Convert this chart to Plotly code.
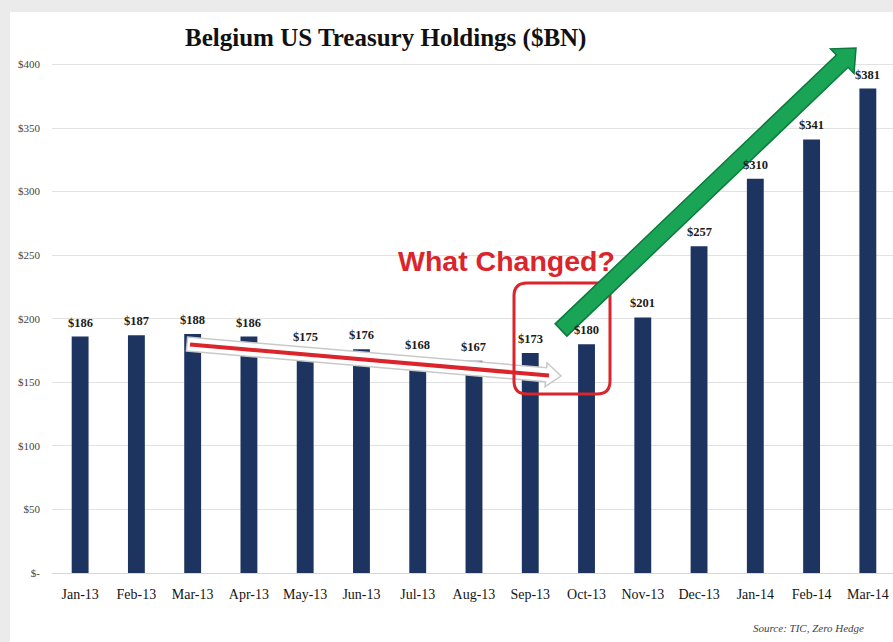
import plotly.graph_objects as go

# ---- data ----
months = ["Jan-13", "Feb-13", "Mar-13", "Apr-13", "May-13", "Jun-13", "Jul-13", "Aug-13",
          "Sep-13", "Oct-13", "Nov-13", "Dec-13", "Jan-14", "Feb-14", "Mar-14"]
holdings = [186, 187, 188, 186, 175, 176, 168, 167, 173, 180, 201, 257, 310, 341, 381]
y_tick_vals = [0, 50, 100, 150, 200, 250, 300, 350, 400]
y_tick_text = ["$-", "$50", "$100", "$150", "$200", "$250", "$300", "$350", "$400"]

# ---- layout geometry (pixels) ----
W, H = 893, 642
ML, MR, MT, MB = 52, 0, 39, 69
XR = [-0.5, 14.447]
YR = [0, 420]
PW = W - ML - MR
PH = H - MT - MB
DX = PW / (XR[1] - XR[0])
KY = PH / (YR[1] - YR[0])
Y0 = H - MB


def P(px, py):
    """pixel -> data coords"""
    return (px - ML) / DX + XR[0], (Y0 - py) / KY + YR[0]


def PP(px, py):
    """pixel -> paper coords"""
    return (px - ML) / PW, (Y0 - py) / PH


def path_from_px(points):
    pts = [P(x, y) for x, y in points]
    s = "M %f,%f " % pts[0]
    for p in pts[1:]:
        s += "L %f,%f " % p
    return s + "Z"


def arrow_poly(tail, tip, body_hw, head_hw, head_len):
    tx, ty = tail
    hx, hy = tip
    L = ((hx - tx) ** 2 + (hy - ty) ** 2) ** 0.5
    ux, uy = (hx - tx) / L, (hy - ty) / L
    nx, ny = -uy, ux
    bx, by = hx - head_len * ux, hy - head_len * uy
    return [
        (tx + body_hw * nx, ty + body_hw * ny),
        (bx + body_hw * nx, by + body_hw * ny),
        (bx + head_hw * nx, by + head_hw * ny),
        (hx, hy),
        (bx - head_hw * nx, by - head_hw * ny),
        (bx - body_hw * nx, by - body_hw * ny),
        (tx - body_hw * nx, ty - body_hw * ny),
    ]


def rounded_rect_px(x0, y0, x1, y1, r):
    a = P(x0, y0); b = P(x1, y1)
    rx = r / DX; ry = r / KY
    X0, Yt = a; X1, Yb = b
    return (f"M {X0+rx},{Yt} L {X1-rx},{Yt} Q {X1},{Yt} {X1},{Yt-ry} "
            f"L {X1},{Yb+ry} Q {X1},{Yb} {X1-rx},{Yb} "
            f"L {X0+rx},{Yb} Q {X0},{Yb} {X0},{Yb+ry} "
            f"L {X0},{Yt-ry} Q {X0},{Yt} {X0+rx},{Yt} Z")


NAVY = "#1d3461"
RED = "#d9252b"
SERIF = "Liberation Serif, Times New Roman, serif"
SANS = "Liberation Sans, Arial, sans-serif"

fig = go.Figure()
fig.add_trace(go.Bar(
    x=list(range(len(months))), y=holdings, width=0.3,
    marker=dict(color=NAVY, line=dict(width=0)),
    hoverinfo="skip",
))

annotations = []
for i, v in enumerate(holdings):
    annotations.append(dict(
        x=i, y=v, xref="x", yref="y", text=f"<b>${v}</b>", showarrow=False,
        yanchor="bottom", yshift=5, font=dict(family=SERIF, size=12.5, color="#1a1a1a")))

tx, ty = PP(385, 38)
annotations.append(dict(x=tx, y=ty, xref="paper", yref="paper", showarrow=False,
                        text="<b>Belgium US Treasury Holdings ($BN)</b>",
                        xanchor="center", yanchor="middle",
                        font=dict(family=SERIF, size=25, color="#111111")))
wx, wy = P(506, 261)
annotations.append(dict(x=wx, y=wy, xref="x", yref="y", showarrow=False,
                        text="<b>What Changed?</b>", xanchor="center", yanchor="middle",
                        font=dict(family=SANS, size=28.5, color=RED)))
sx, sy = PP(866, 628)
annotations.append(dict(x=sx, y=sy, xref="paper", yref="paper", showarrow=False,
                        text="<i>Source: TIC, Zero Hedge</i>", xanchor="right", yanchor="middle",
                        font=dict(family=SERIF, size=11, color="#444444")))

shapes = []
# frame bands
lx0, ly0 = PP(0, H); lx1, ly1 = PP(10, 0)
shapes.append(dict(type="rect", xref="paper", yref="paper", x0=lx0, x1=lx1, y0=ly0, y1=ly1,
                   fillcolor="#ebebeb", line=dict(width=0), layer="below"))
tx0, ty0 = PP(0, 12); tx1, ty1 = PP(W, 0)
shapes.append(dict(type="rect", xref="paper", yref="paper", x0=tx0, x1=tx1, y0=ty0, y1=ty1,
                   fillcolor="#ebebeb", line=dict(width=0), layer="below"))

# white arrow with red line (declining trend)
shapes.append(dict(type="path", xref="x", yref="y",
                   path=path_from_px(arrow_poly((187, 344), (561, 376), 7, 12, 15)),
                   fillcolor="white", line=dict(color="#c9c9c9", width=1.5), layer="above"))
a0 = P(190, 344.5); a1 = P(549, 375.5)
shapes.append(dict(type="line", xref="x", yref="y", x0=a0[0], y0=a0[1], x1=a1[0], y1=a1[1],
                   line=dict(color=RED, width=4), layer="above"))
# red rounded rectangle
shapes.append(dict(type="path", xref="x", yref="y",
                   path=rounded_rect_px(514, 283, 610, 394, 13),
                   fillcolor="rgba(0,0,0,0)", line=dict(color=RED, width=3), layer="above"))
# green arrow
shapes.append(dict(type="path", xref="x", yref="y",
                   path=path_from_px(arrow_poly((561, 330), (856, 48), 8.5, 17, 19)),
                   fillcolor="#19a555", line=dict(color="#0c7a3c", width=1.5), layer="above"))

fig.update_layout(
    width=W, height=H,
    margin=dict(l=ML, r=MR, t=MT, b=MB, pad=0),
    paper_bgcolor="white", plot_bgcolor="white",
    showlegend=False, bargap=0.7,
    annotations=annotations, shapes=shapes,
    xaxis=dict(range=XR, tickmode="array", tickvals=list(range(len(months))), ticktext=months,
               tickfont=dict(family=SERIF, size=14, color="#151515"),
               showgrid=False, zeroline=False, showline=True, linecolor="#d6d6d6", linewidth=1,
               ticks="", ticklabelstandoff=8, fixedrange=True),
    yaxis=dict(range=YR, tickmode="array", tickvals=y_tick_vals, ticktext=y_tick_text,
               tickfont=dict(family=SERIF, size=11, color="#454545"),
               showgrid=True, gridcolor="#e2e2e2", gridwidth=1, zeroline=False,
               showline=False, ticks="", ticklabelstandoff=11, fixedrange=True),
)

fig.write_html("out.html", config={"displayModeBar": False},
               post_script="document.body.style.margin='0';document.body.style.overflow='hidden';")
